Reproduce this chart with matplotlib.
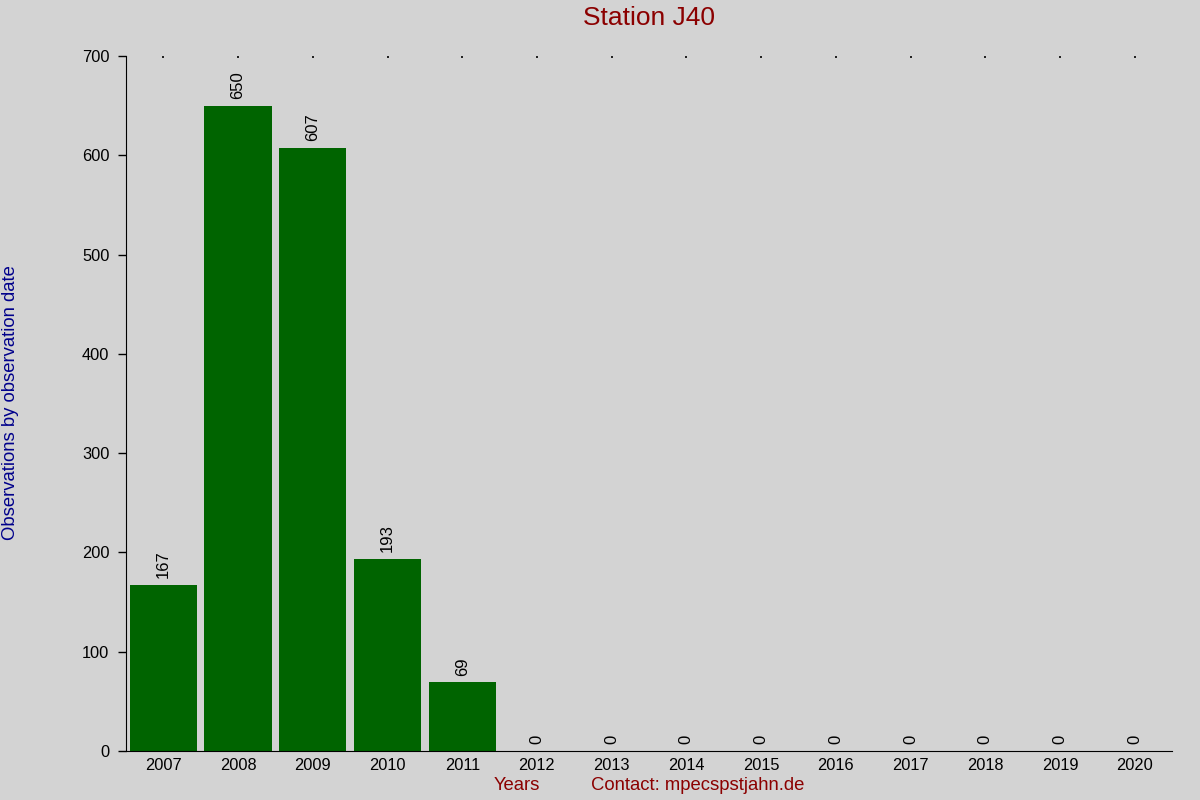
import matplotlib.pyplot as plt
import numpy as np

years = ['2007', '2008', '2009', '2010', '2011', '2012', '2013', '2014',
         '2015', '2016', '2017', '2018', '2019', '2020']
observations = [167, 650, 607, 193, 69, 0, 0, 0, 0, 0, 0, 0, 0, 0]

plt.rcParams['font.family'] = ['Liberation Sans', 'DejaVu Sans']

fig = plt.figure(figsize=(12, 8), dpi=100, facecolor='#d3d3d3')
ax = fig.add_axes([126 / 1200, 49 / 800, 1046 / 1200, 695 / 800])
ax.set_facecolor('#d3d3d3')

x = np.arange(len(years))
ax.bar(x, observations, width=0.9, color='#006400')
for xi, v in zip(x, observations):
    ax.text(xi, v + 7, str(v), rotation=90, ha='center', va='bottom', fontsize=12, color='black')

ax.set_xlim(-0.5, len(years) - 0.5)
ax.set_ylim(0, 700)
ax.set_yticks(range(0, 701, 100))
ax.set_xticks(x)
ax.set_xticklabels(years, fontsize=11.8)
ax.tick_params(axis='y', labelsize=11.8, length=6, width=1, direction='out', pad=6)
ax.tick_params(axis='x', bottom=False, top=True, length=1.2, width=1.2, direction='in', pad=5)

for side in ['top', 'right']:
    ax.spines[side].set_visible(False)

fig.text(649 / 1200, 1 - 18 / 800, 'Station J40', ha='center', va='center', fontsize=19, color='#8b0000')
fig.text(11 / 1200, 1 - 403 / 800, 'Observations by observation date', rotation=90,
         ha='center', va='center', fontsize=13.3, color='#00008b')
fig.text(517 / 1200, 1 - 786 / 800, 'Years', ha='center', va='center', fontsize=13.3, color='#8b0000')
fig.text(698 / 1200, 1 - 786 / 800, 'Contact: mpecspstjahn.de', ha='center', va='center',
         fontsize=13.3, color='#8b0000')

fig.savefig('out.png', dpi=100, facecolor=fig.get_facecolor())
